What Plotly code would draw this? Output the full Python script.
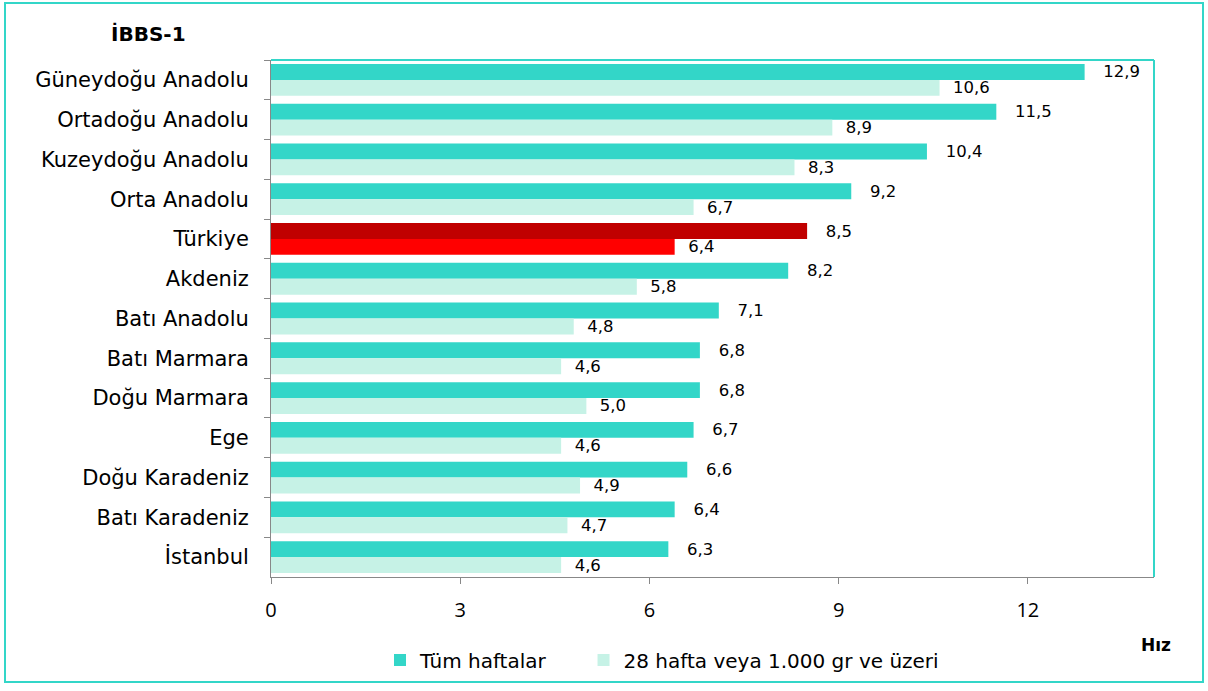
import plotly.graph_objects as go

categories = ["Güneydoğu Anadolu", "Ortadoğu Anadolu", "Kuzeydoğu Anadolu", "Orta Anadolu",
              "Türkiye", "Akdeniz", "Batı Anadolu", "Batı Marmara", "Doğu Marmara", "Ege",
              "Doğu Karadeniz", "Batı Karadeniz", "İstanbul"]
tum_haftalar = [12.9, 11.5, 10.4, 9.2, 8.5, 8.2, 7.1, 6.8, 6.8, 6.7, 6.6, 6.4, 6.3]
hafta28 = [10.6, 8.9, 8.3, 6.7, 6.4, 5.8, 4.8, 4.6, 5.0, 4.6, 4.9, 4.7, 4.6]
x_ticks = [0, 3, 6, 9, 12]

TEAL = "#33D6C8"
LIGHT = "#C6F2E6"
col1 = ["#C00000" if c == "Türkiye" else TEAL for c in categories]
col2 = ["#FF0000" if c == "Türkiye" else LIGHT for c in categories]

FONT = "DejaVu Sans"
NB = "\u00a0"
fig = go.Figure()
fig.add_trace(go.Bar(y=categories, x=tum_haftalar, orientation="h", name="Tüm haftalar" + NB * 5,
                     marker=dict(color=col1, line=dict(width=0)),
                     texttemplate=NB * 3 + "%{x:.1f}", textposition="outside", constraintext="none",
                     textfont=dict(family=FONT, size=16.5, color="#000"), cliponaxis=False))
fig.add_trace(go.Bar(y=categories, x=hafta28, orientation="h", name="28 hafta veya 1.000 gr ve üzeri",
                     marker=dict(color=col2, line=dict(width=0)),
                     texttemplate=NB * 2 + "%{x:.1f}", textposition="outside", constraintext="none",
                     textfont=dict(family=FONT, size=16.5, color="#000"), cliponaxis=False))

W, H = 1208, 691
L, R, T, B = 271, 1154, 60, 577
pw, ph = R - L, B - T

def px(x):
    return (x - L) / pw

def py(y):
    return (B - y) / ph

fig.update_layout(
    width=W, height=H, autosize=False,
    margin=dict(l=L, r=W - R, t=T, b=H - B),
    paper_bgcolor="white", plot_bgcolor="white",
    separators=",.",
    barmode="group", bargap=0.2, bargroupgap=0,
    font=dict(family=FONT, color="#000"),
    showlegend=True,
    legend=dict(orientation="h", traceorder="normal", x=px(662), xanchor="center",
                y=py(660), yanchor="middle", font=dict(size=20, family=FONT),
                itemwidth=30),
    xaxis=dict(range=[0, 14], tickvals=x_ticks, ticks="outside", ticklen=6, tickcolor="#888",
               showline=True, linecolor="#888", linewidth=1, showgrid=False, zeroline=False,
               tickfont=dict(size=20, family="Open Sans"), ticklabelstandoff=9),
    yaxis=dict(autorange="reversed", type="category", ticks="outside", ticklen=6, tickcolor="#888",
               tickson="boundaries", showline=True, linecolor="#888", linewidth=1, showgrid=False,
               tickfont=dict(size=21, family=FONT), ticklabelstandoff=17),
    shapes=[
        dict(type="rect", xref="paper", yref="paper", x0=px(5), x1=px(1203), y0=py(682), y1=py(3),
             line=dict(color=TEAL, width=2), layer="below"),
        dict(type="line", xref="paper", yref="paper", x0=0, x1=1, y0=1, y1=1,
             line=dict(color=TEAL, width=2)),
        dict(type="line", xref="paper", yref="paper", x0=1, x1=1, y0=0, y1=1,
             line=dict(color=TEAL, width=2)),
    ],
    annotations=[
        dict(text="<b>İBBS-1</b>", xref="paper", yref="paper", x=px(148), y=py(34),
             xanchor="center", yanchor="middle", showarrow=False, font=dict(size=20, family=FONT)),
        dict(text="<b>Hız</b>", xref="paper", yref="paper", x=px(1156), y=py(645),
             xanchor="center", yanchor="middle", showarrow=False, font=dict(size=17, family=FONT)),
    ],
)
fig.write_html("out.html", config={"displayModeBar": False},
               post_script="document.body.style.margin='0';")
